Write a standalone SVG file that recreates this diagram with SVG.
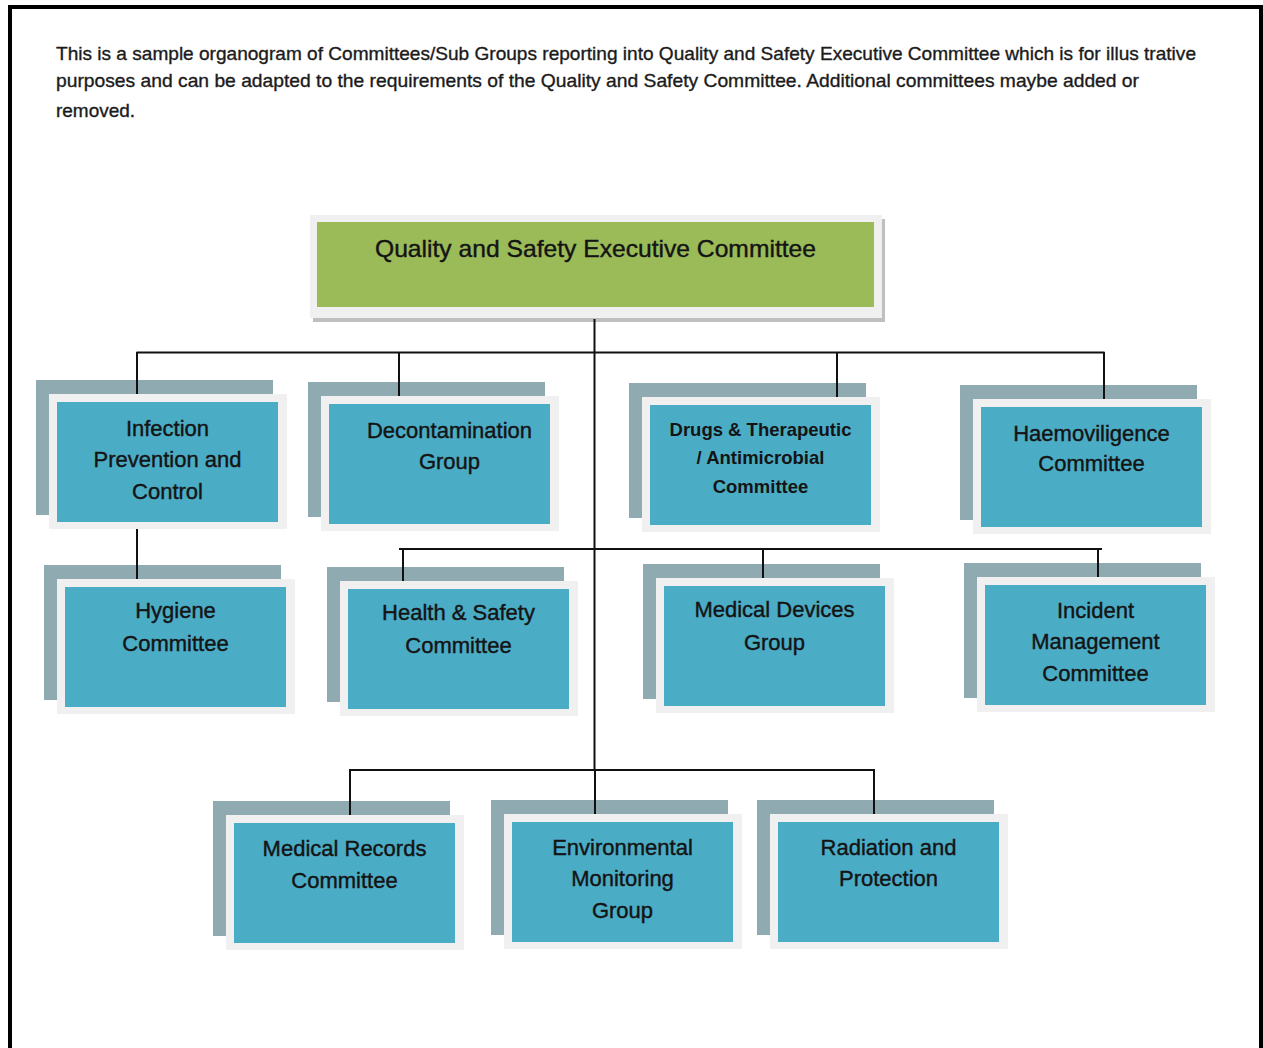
<svg xmlns="http://www.w3.org/2000/svg" width="1263" height="1048" viewBox="0 0 1263 1048">
<style>
.bg{fill:#ffffff}
.border{fill:none;stroke:#000;stroke-width:4}
.para{font-family:"Liberation Sans",Arial,sans-serif;font-size:18.5px;fill:#1b1b1b;stroke:#1b1b1b;stroke-width:0.35}
.sh{fill:#8FAAB1}
.fr{fill:#F0F0F0}
.in{fill:#4BACC6}
.lbl{font-family:"Liberation Sans",Arial,sans-serif;font-size:22px;fill:#141414;stroke:#141414;stroke-width:0.4;text-anchor:middle}
.lbls{font-family:"Liberation Sans",Arial,sans-serif;font-size:18.5px;font-weight:bold;fill:#141414;text-anchor:middle}
.top{font-family:"Liberation Sans",Arial,sans-serif;font-size:24px;fill:#141414;stroke:#141414;stroke-width:0.4;text-anchor:middle}
.conn{fill:none;stroke:#111;stroke-width:2}
</style>
<rect class="bg" x="0" y="0" width="1263" height="1048"/>
<path class="border" d="M10,1048 V7 H1261 V1048"/>

<g id="intro">
<text class="para" x="56" y="60" textLength="1140" lengthAdjust="spacingAndGlyphs">This is a sample organogram of Committees/Sub Groups reporting into Quality and Safety Executive Committee which is for illus trative</text>
<text class="para" x="56" y="87" textLength="1083" lengthAdjust="spacingAndGlyphs">purposes and can be adapted to the requirements of the Quality and Safety Committee. Additional committees maybe added or</text>
<text class="para" x="56" y="117" textLength="79" lengthAdjust="spacingAndGlyphs">removed.</text>
</g>

<g id="node-qsec">
<rect x="313" y="219" width="572" height="103" fill="#BFBFBF"/>
<rect class="fr" x="310" y="215" width="572" height="103"/>
<rect x="317" y="222" width="557" height="85" fill="#9BBB59"/>
<text class="top" x="595.5" y="257" textLength="441" lengthAdjust="spacingAndGlyphs">Quality and Safety Executive Committee</text>
</g>

<g id="node-ipc">
<rect class="sh" x="36" y="380" width="237" height="135"/>
<rect class="fr" x="49" y="394" width="238" height="135"/>
<rect class="in" x="57" y="402" width="221" height="120"/>
<text class="lbl" x="167.5" y="436">Infection</text>
<text class="lbl" x="167.5" y="467">Prevention and</text>
<text class="lbl" x="167.5" y="499">Control</text>
</g>

<g id="node-decon">
<rect class="sh" x="308" y="382" width="237" height="135"/>
<rect class="fr" x="321" y="396" width="238" height="135"/>
<rect class="in" x="329" y="404" width="221" height="120"/>
<text class="lbl" x="449.5" y="438">Decontamination</text>
<text class="lbl" x="449.5" y="469">Group</text>
</g>

<g id="node-drugs">
<rect class="sh" x="629" y="383" width="237" height="135"/>
<rect class="fr" x="642" y="397" width="238" height="135"/>
<rect class="in" x="650" y="405" width="221" height="120"/>
<text class="lbls" x="760.5" y="436">Drugs &amp; Therapeutic</text>
<text class="lbls" x="760.5" y="464">/ Antimicrobial</text>
<text class="lbls" x="760.5" y="493">Committee</text>
</g>

<g id="node-haemo">
<rect class="sh" x="960" y="385" width="237" height="135"/>
<rect class="fr" x="973" y="399" width="238" height="135"/>
<rect class="in" x="981" y="407" width="221" height="120"/>
<text class="lbl" x="1091.5" y="441">Haemoviligence</text>
<text class="lbl" x="1091.5" y="471">Committee</text>
</g>

<g id="node-hygiene">
<rect class="sh" x="44" y="565" width="237" height="135"/>
<rect class="fr" x="57" y="579" width="238" height="135"/>
<rect class="in" x="65" y="587" width="221" height="120"/>
<text class="lbl" x="175.5" y="618">Hygiene</text>
<text class="lbl" x="175.5" y="651">Committee</text>
</g>

<g id="node-hs">
<rect class="sh" x="327" y="567" width="237" height="135"/>
<rect class="fr" x="340" y="581" width="238" height="135"/>
<rect class="in" x="348" y="589" width="221" height="120"/>
<text class="lbl" x="458.5" y="620">Health &amp; Safety</text>
<text class="lbl" x="458.5" y="653">Committee</text>
</g>

<g id="node-md">
<rect class="sh" x="643" y="564" width="237" height="135"/>
<rect class="fr" x="656" y="578" width="238" height="135"/>
<rect class="in" x="664" y="586" width="221" height="120"/>
<text class="lbl" x="774.5" y="617">Medical Devices</text>
<text class="lbl" x="774.5" y="650">Group</text>
</g>

<g id="node-incident">
<rect class="sh" x="964" y="563" width="237" height="135"/>
<rect class="fr" x="977" y="577" width="238" height="135"/>
<rect class="in" x="985" y="585" width="221" height="120"/>
<text class="lbl" x="1095.5" y="618">Incident</text>
<text class="lbl" x="1095.5" y="649">Management</text>
<text class="lbl" x="1095.5" y="681">Committee</text>
</g>

<g id="node-mr">
<rect class="sh" x="213" y="801" width="237" height="135"/>
<rect class="fr" x="226" y="815" width="238" height="135"/>
<rect class="in" x="234" y="823" width="221" height="120"/>
<text class="lbl" x="344.5" y="856">Medical Records</text>
<text class="lbl" x="344.5" y="888">Committee</text>
</g>

<g id="node-env">
<rect class="sh" x="491" y="800" width="237" height="135"/>
<rect class="fr" x="504" y="814" width="238" height="135"/>
<rect class="in" x="512" y="822" width="221" height="120"/>
<text class="lbl" x="622.5" y="855">Environmental</text>
<text class="lbl" x="622.5" y="886">Monitoring</text>
<text class="lbl" x="622.5" y="918">Group</text>
</g>

<g id="node-rad">
<rect class="sh" x="757" y="800" width="237" height="135"/>
<rect class="fr" x="770" y="814" width="238" height="135"/>
<rect class="in" x="778" y="822" width="221" height="120"/>
<text class="lbl" x="888.5" y="855">Radiation and</text>
<text class="lbl" x="888.5" y="886">Protection</text>
</g>

<g id="connectors" class="conn">
<path d="M594.5,319 V770"/>
<path d="M136.5,352.5 H1104.5"/>
<path d="M137,352 V394"/>
<path d="M399,352 V396"/>
<path d="M837,352 V397"/>
<path d="M1104,352 V399"/>
<path d="M137,529 V579"/>
<path d="M399,549 H1102"/>
<path d="M403,549 V581"/>
<path d="M763,549 V578"/>
<path d="M1098,549 V577"/>
<path d="M349,770 H875"/>
<path d="M350,770 V815"/>
<path d="M595,770 V814"/>
<path d="M874,770 V814"/>
</g>
</svg>
